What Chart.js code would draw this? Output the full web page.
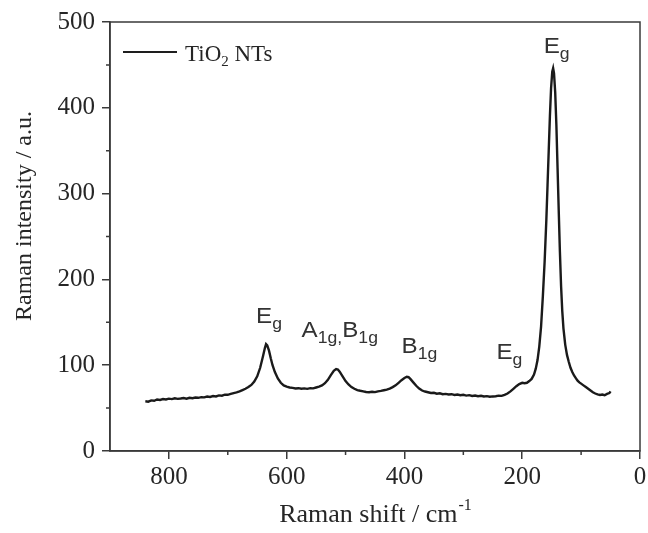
<!DOCTYPE html>
<html>
<head>
<meta charset="utf-8">
<script src="https://cdn.jsdelivr.net/npm/chart.js@4/dist/chart.umd.min.js"></script>
<style>
  html, body { margin: 0; padding: 0; background: #fff; }
  #wrap { width: 648px; height: 533px; }
</style>
</head>
<body>
<div id="wrap"><canvas id="c" width="648" height="533"></canvas></div>
<script>
// Raman spectrum of TiO2 nanotubes
const shift = [840,835,830,825,820,815,810,805,800,795,790,785,780,775,770,765,760,755,750,745,740,735,730,725,720,715,710,705,700,695,690,685,680,675,670,665,660,655,650,645,640,637,635,633,630,627,624,620,615,610,605,600,595,590,585,580,575,570,565,560,555,550,545,540,535,530,525,520,516,513,510,505,500,495,490,485,480,475,470,465,460,455,450,445,440,435,430,425,420,415,410,405,400,396,393,390,385,380,375,370,365,360,355,350,345,340,335,330,325,320,315,310,305,300,295,290,285,280,275,270,265,260,255,250,245,240,235,230,225,220,215,210,205,200,196,192,188,184,180,177,174,171,168,165,162,159,157,155,153,151,149,147.5,146,144,142,140,138,136,134,132,130,127,124,121,118,115,112,109,106,103,100,96,92,88,84,80,76,72,68,64,60,56,52,50];
const intensity = [58,57.5,59,58.5,60,59.5,60.5,60,61,60.5,61.5,60.8,61.2,61.8,61,62,61.5,62.3,62,62.8,62.5,63.5,63,64,63.6,64.8,64.5,65.6,65.5,66.5,67.5,68.3,69.5,71,72.5,74.5,77,81,87,97,111,120,124.5,123,117,108,100,92,84.5,79.5,76.5,75,74,73.5,72.8,73.2,72.5,73,72.4,73.3,73,74,75,76.5,79,83,88.5,93.5,95.5,95,92.5,87,81.5,77.5,74.5,72.5,71,70.2,69.5,68.8,68.5,69,68.6,69.5,70,70.8,71.5,72.8,74.5,76.5,79.5,82.5,85,86.5,86,84,80,76,72.8,70.5,69.3,68.5,67.6,67.9,66.8,67.2,66.2,66.6,65.8,66.2,65.3,65.8,65,65.5,64.6,65.1,64.2,64.7,63.9,64.3,63.6,63.9,63.2,63.6,63.8,64.5,64.3,65.5,67,69.5,72.5,75.5,78,79.5,79,79.5,81.5,84,89,96,106,122,145,180,220,270,310,350,390,423,442,446,440,418,380,330,280,232,192,163,143,124,112,104,97,92,88,85,82,80,78.5,76.5,74.5,72.5,70.5,68.5,67,66,65.3,65.8,65,66.5,67.5,69.5];

const xTicks = [0, 200, 400, 600, 800];
const xMinor = [100, 300, 500, 700];
const yTicks = [0, 100, 200, 300, 400, 500];
const yMinor = [50, 150, 250, 350, 450];

// Band assignments: pieces of [text, isSubscript], shift at left edge, intensity at baseline
const bands = [
  [[['E', 0], ['g', 1]], 163.6, 464],
  [[['E', 0], ['g', 1]], 652, 149],
  [[['A', 0], ['1g,', 1], ['B', 0], ['1g', 1]], 574.6, 132.6],
  [[['B', 0], ['1g', 1]], 405, 114],
  [[['E', 0], ['g', 1]], 243.8, 107]
];
const legendLabel = ['TiO', '2', ' NTs'];
const xTitle = ['Raman shift / cm', '-1'];
const yTitle = 'Raman intensity / a.u.';

const AX = '#3a3a3a';
const TXT = '#262626';
const SERIF = '"Liberation Serif", "Times New Roman", serif';
const SANS = '"Liberation Sans", Arial, sans-serif';

const points = shift.map((s, i) => ({ x: s, y: intensity[i] }));

const decor = {
  id: 'decor',
  afterDraw(chart) {
    const { ctx, chartArea: a, scales: { x, y } } = chart;
    ctx.save();
    // frame
    ctx.strokeStyle = AX;
    ctx.lineWidth = 1.5;
    ctx.strokeRect(a.left, a.top, a.right - a.left, a.bottom - a.top);
    // minor ticks
    ctx.beginPath();
    xMinor.forEach(v => { const px = x.getPixelForValue(v); ctx.moveTo(px, a.bottom); ctx.lineTo(px, a.bottom + 4); });
    yMinor.forEach(v => { const py = y.getPixelForValue(v); ctx.moveTo(a.left, py); ctx.lineTo(a.left - 4, py); });
    ctx.stroke();

    // band labels (slightly widened glyphs)
    ctx.fillStyle = '#333';
    ctx.textBaseline = 'alphabetic';
    ctx.textAlign = 'left';
    const sx = 1.1;
    bands.forEach(([parts, bx, by]) => {
      const px0 = x.getPixelForValue(bx);
      const py = y.getPixelForValue(by);
      ctx.save();
      ctx.translate(px0, py);
      ctx.scale(sx, 1);
      let px = 0;
      parts.forEach(([t, sub]) => {
        ctx.font = (sub ? '16px ' : '22px ') + SANS;
        ctx.fillText(t, px, sub ? 6 : 0);
        px += ctx.measureText(t).width;
      });
      ctx.restore();
    });

    // legend
    ctx.strokeStyle = '#1e1e1e';
    ctx.lineWidth = 2;
    ctx.beginPath();
    ctx.moveTo(123, 52); ctx.lineTo(177, 52);
    ctx.stroke();
    ctx.fillStyle = TXT;
    let lx = 185;
    ctx.font = '23px ' + SERIF;
    ctx.fillText(legendLabel[0], lx, 61);
    lx += ctx.measureText(legendLabel[0]).width;
    ctx.font = '15px ' + SERIF;
    ctx.fillText(legendLabel[1], lx, 66);
    lx += ctx.measureText(legendLabel[1]).width;
    ctx.font = '23px ' + SERIF;
    ctx.fillText(legendLabel[2], lx, 61);

    // x title
    ctx.font = '26px ' + SERIF;
    const w1 = ctx.measureText(xTitle[0]).width;
    ctx.font = '16px ' + SERIF;
    const w2 = ctx.measureText(xTitle[1]).width;
    const tx = (a.left + a.right) / 2 - (w1 + w2) / 2;
    ctx.font = '26px ' + SERIF;
    ctx.fillText(xTitle[0], tx, 522);
    ctx.font = '16px ' + SERIF;
    ctx.fillText(xTitle[1], tx + w1 + 1, 510);

    // y title
    ctx.translate(31, 216);
    ctx.rotate(-Math.PI / 2);
    ctx.textAlign = 'center';
    ctx.font = '24px ' + SERIF;
    ctx.fillText(yTitle, 0, 0);
    ctx.restore();
  }
};

new Chart(document.getElementById('c'), {
  type: 'line',
  data: {
    datasets: [{
      data: points,
      borderColor: '#1a1a1a',
      borderWidth: 2.4,
      pointRadius: 0,
      tension: 0,
      fill: false
    }]
  },
  options: {
    responsive: false,
    animation: false,
    layout: { padding: { top: 22, right: 8, left: 0, bottom: 0 } },
    plugins: { legend: { display: false }, tooltip: { enabled: false } },
    scales: {
      x: {
        type: 'linear',
        reverse: true,
        min: 0,
        max: 900,
        afterBuildTicks: s => { s.ticks = xTicks.map(v => ({ value: v })); },
        afterFit: s => { s.height = 82; },
        border: { display: true, color: AX, width: 1.5 },
        grid: { drawOnChartArea: false, tickLength: 8, color: AX, lineWidth: 1.5 },
        ticks: { color: TXT, padding: 3, maxRotation: 0, font: { family: SERIF, size: 25 } }
      },
      y: {
        min: 0,
        max: 500,
        afterBuildTicks: s => { s.ticks = yTicks.map(v => ({ value: v })); },
        afterFit: s => { s.width = 110; },
        border: { display: true, color: AX, width: 1.5 },
        grid: { drawOnChartArea: false, tickLength: 8, color: AX, lineWidth: 1.5 },
        ticks: { color: TXT, padding: 7, font: { family: SERIF, size: 25 } }
      }
    }
  },
  plugins: [decor]
});
</script>
</body>
</html>
